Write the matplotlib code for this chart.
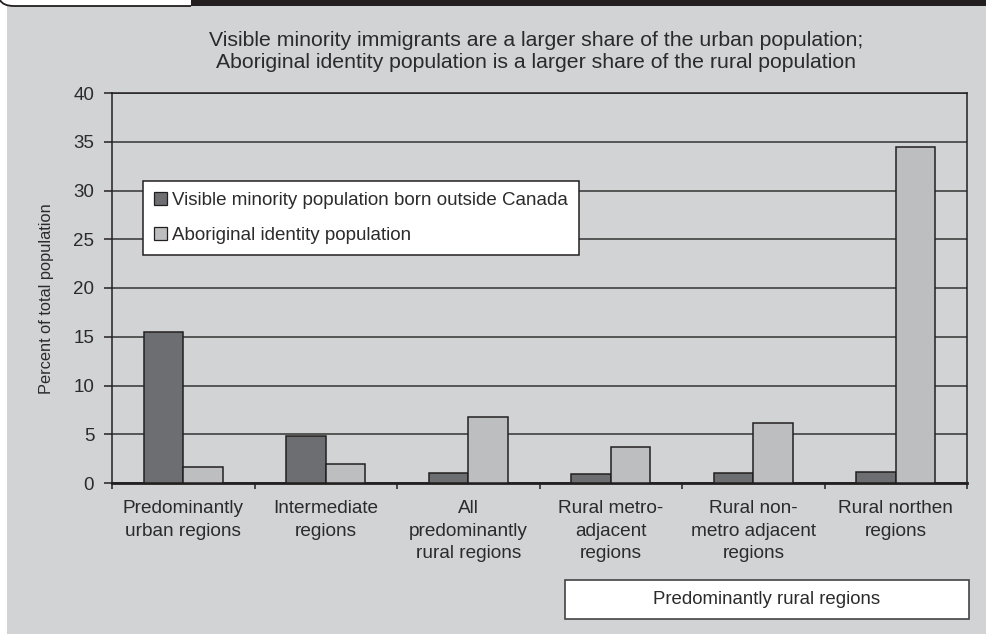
import numpy as np
import matplotlib.pyplot as plt
import matplotlib as mpl
from matplotlib.patches import Rectangle, Patch
from matplotlib.path import Path
from matplotlib.patches import PathPatch

mpl.rcParams["font.family"] = ["Liberation Sans", "DejaVu Sans"]

W, H = 986, 634
DPI = 100

categories = [
    "Predominantly\nurban regions",
    "Intermediate\nregions",
    "All\npredominantly\nrural regions",
    "Rural metro-\nadjacent\nregions",
    "Rural non-\nmetro adjacent\nregions",
    "Rural northen\nregions",
]
visible_minority = [15.5, 4.85, 1.0, 0.9, 1.05, 1.15]
aboriginal = [1.6, 2.0, 6.8, 3.7, 6.15, 34.45]

series_names = ["Visible minority population born outside Canada",
                "Aboriginal identity population"]
title_lines = ["Visible minority immigrants are a larger share of the urban population;",
               "Aboriginal identity population is a larger share of the rural population"]
ylabel = "Percent of total population"
bracket_label = "Predominantly rural regions"

BG = "#d1d3d4"
DARK = "#6d6e71"
LIGHT = "#bcbec0"
INK = "#231f20"
TXT = "#2b2b2b"


def fx(x):
    return x / W


def fy(y):
    return 1 - y / H


fig = plt.figure(figsize=(W / DPI, H / DPI), dpi=DPI)
fig.patch.set_facecolor("white")

# panel background and header strip
fig.patches.append(Rectangle((fx(7), 0), 1 - fx(7), fy(6), transform=fig.transFigure,
                             facecolor=BG, edgecolor="none", zorder=0))
fig.patches.append(Rectangle((fx(191), fy(6)), 1 - fx(191), 1 - fy(6), transform=fig.transFigure,
                             facecolor=INK, edgecolor="none", zorder=0))
tab = Path([(fx(0), fy(0)), (fx(3), fy(6)), (fx(14), fy(6)), (fx(191), fy(6))],
           [Path.MOVETO, Path.CURVE3, Path.CURVE3, Path.LINETO])
fig.patches.append(PathPatch(tab, transform=fig.transFigure, facecolor="none",
                             edgecolor=INK, lw=1.3, zorder=1))

ax = fig.add_axes([fx(112), fy(483), fx(967) - fx(112), fy(93) - fy(483)])
ax.set_facecolor("none")
ax.set_zorder(5)

x = np.arange(len(categories))
bw = 0.277
ax.bar(x - bw / 2, visible_minority, bw, color=DARK, edgecolor=INK, lw=1.1, zorder=3,
       label=series_names[0])
ax.bar(x + bw / 2, aboriginal, bw, color=LIGHT, edgecolor=INK, lw=1.1, zorder=3,
       label=series_names[1])

ax.set_xlim(-0.5, len(categories) - 0.5)
ax.set_ylim(0, 40)
ax.set_yticks(np.arange(0, 41, 5))
ax.yaxis.grid(True, color="#333333", lw=1.1, zorder=1)
ax.set_axisbelow(True)

ax.set_xticks(x)
ax.set_xticklabels(categories, fontsize=13.7, color=TXT, linespacing=1.42)
ax.set_xticks(np.arange(-0.5, len(categories)), minor=True)
ax.tick_params(axis="x", which="major", length=0, pad=12.5)
ax.tick_params(axis="x", which="minor", length=4.5, width=1.1, color=INK)
ax.tick_params(axis="y", length=5.8, width=1.1, pad=7, labelsize=13.5,
               color=INK, labelcolor=TXT)

for side in ["left", "right", "top"]:
    ax.spines[side].set_color(INK)
    ax.spines[side].set_linewidth(1.1)
ax.spines["bottom"].set_color(INK)
ax.spines["bottom"].set_linewidth(2.0)

fig.text(fx(47), fy(299), ylabel, rotation=90, ha="center", va="center",
         fontsize=11.8, color=TXT)

fig.text(fx(536), fy(40), title_lines[0], ha="center", va="center", fontsize=15.3, color=TXT)
fig.text(fx(536), fy(63), title_lines[1], ha="center", va="center", fontsize=15.3, color=TXT)

handles = [Patch(facecolor=DARK, edgecolor=INK, lw=0.9),
           Patch(facecolor=LIGHT, edgecolor=INK, lw=0.9)]
leg = ax.legend(handles, series_names, loc="upper left",
                bbox_to_anchor=(fx(143), fy(181)), bbox_transform=fig.transFigure,
                fontsize=13.5, frameon=True, fancybox=False, framealpha=1,
                handlelength=0.68, handleheight=0.68, handletextpad=0.25,
                labelspacing=0.95, borderpad=0.6, borderaxespad=0)
leg.get_frame().set_edgecolor(INK)
leg.get_frame().set_linewidth(1.1)
for t in leg.get_texts():
    t.set_color(TXT)

# group label under the rural columns
fig.patches.append(Rectangle((fx(565), fy(619)), fx(969) - fx(565), fy(580) - fy(619),
                             transform=fig.transFigure, facecolor="white",
                             edgecolor="#444444", lw=1.2, zorder=2))
fig.text(fx(767), fy(600), bracket_label, ha="center", va="center", fontsize=13.4,
         color=TXT, zorder=3)

fig.savefig("out.png", dpi=DPI)
